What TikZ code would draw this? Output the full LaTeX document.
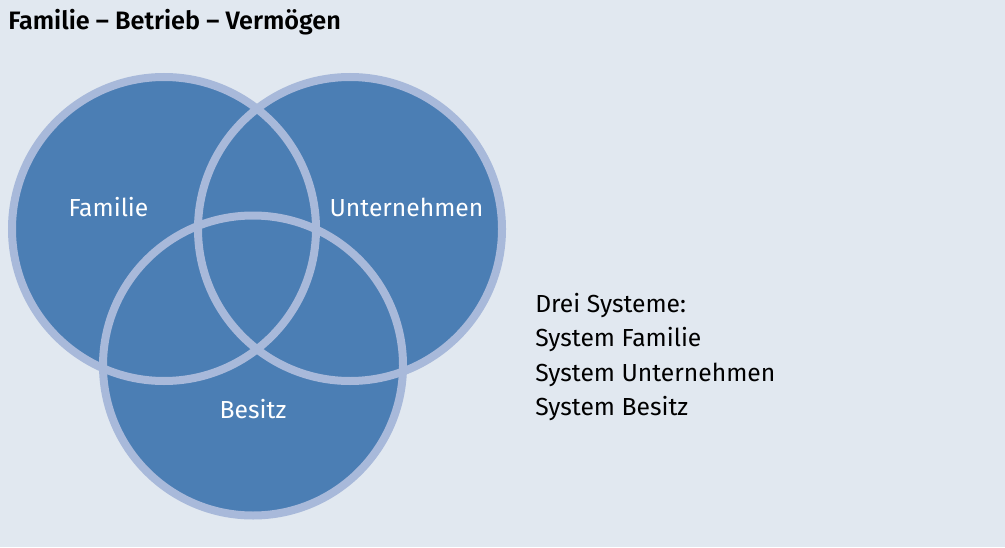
\documentclass[tikz,border=0pt]{standalone}
\usepackage{fontspec}
\setmainfont{Fira Sans}[BoldFont={Fira Sans SemiBold}]
\usetikzlibrary{positioning}
\definecolor{paper}{RGB}{225,232,240}
\definecolor{setfill}{RGB}{75,126,180}
\definecolor{setrim}{RGB}{168,185,218}
\tikzset{
  set circle/.style={fill=setfill},
  set rim/.style={draw=setrim,line width=6pt},
  set label/.style={inner sep=0pt,anchor=base,text=white,font=\fontsize{18.5}{22}\selectfont},
  list line/.style={inner sep=0pt,anchor=base west,font=\fontsize{18.5}{22}\selectfont},
  title text/.style={inner sep=0pt,anchor=base west,font=\fontsize{18.9}{22}\selectfont\bfseries},
}

\begin{document}
\begin{tikzpicture}[x=0.75pt,y=0.75pt]
  \fill[paper] (0,0) rectangle (1005,547);
  \useasboundingbox (0,0) rectangle (1005,547);

  \node[title text] (title) at (8,517) {Familie – Betrieb – Vermögen};

  % the three systems: fills first, rims on top
  \coordinate (cf) at (164,318);
  \coordinate (cu) at (350,318);
  \coordinate (cb) at (253,181.5);
  \fill[set circle] (cf) circle (152);
  \fill[set circle] (cu) circle (152);
  \fill[set circle] (cb) circle (150);
  \draw[set rim] (cf) circle (152);
  \draw[set rim] (cu) circle (152);
  \draw[set rim] (cb) circle (150);

  \node[set label] (familie) at (108.5,330) {Familie};
  \node[set label] (unternehmen) at (406.5,330) {Unternehmen};
  \node[set label] (besitz) at (253,128.5) {Besitz};

  % legend on the right
  \foreach \txt [count=\i] in {Drei Systeme:,System Familie,System Unternehmen,System Besitz}
    \node[list line] (line\i) at (535,{235-34.5*(\i-1)}) {\txt};
\end{tikzpicture}
\end{document}
